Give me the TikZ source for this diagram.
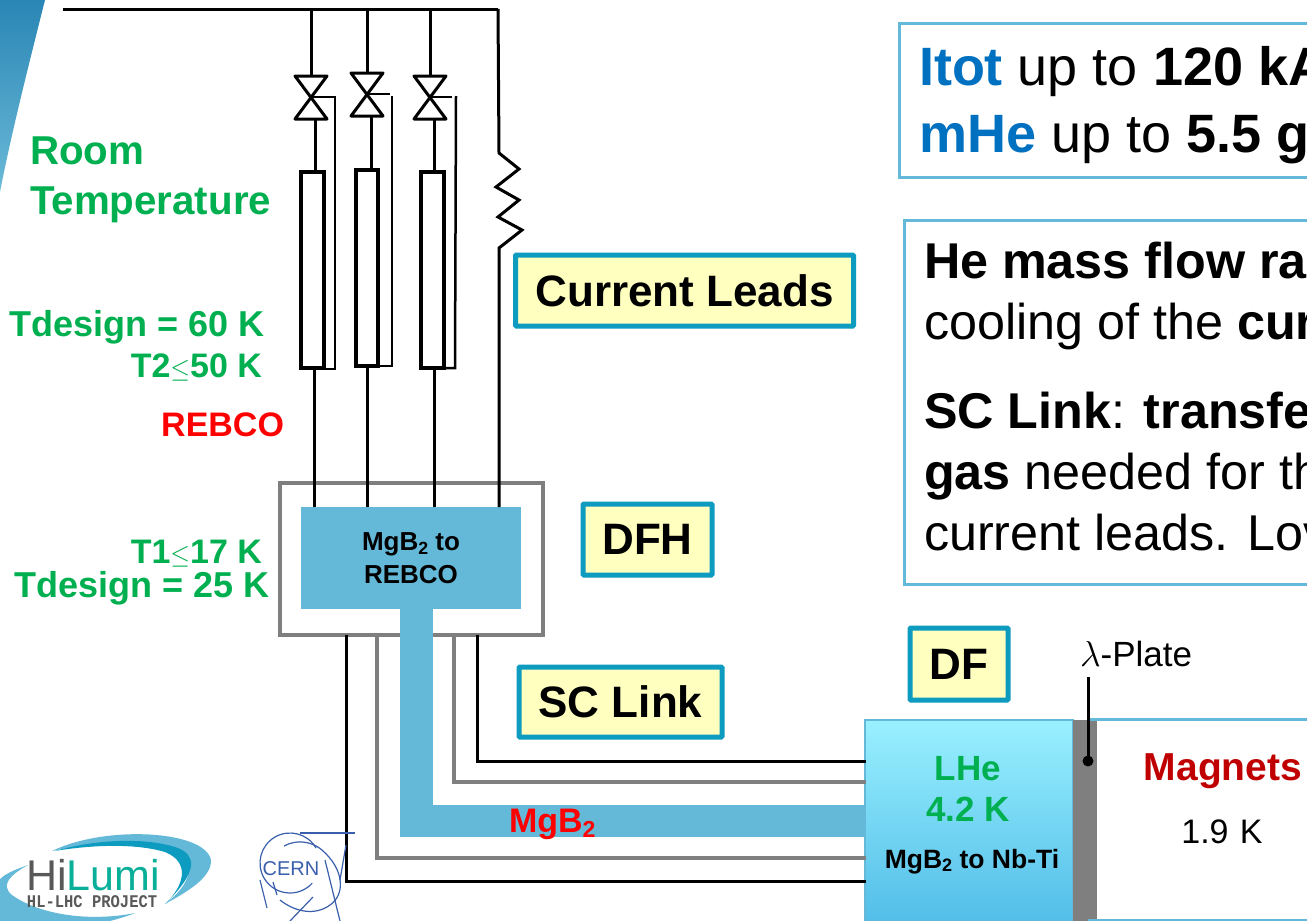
\documentclass[tikz,border=0pt]{standalone}
\usepackage{fontspec}
\setmainfont{Liberation Sans}
\newcommand{\fs}[1]{\fontsize{#1}{#1}\selectfont}
\newcommand{\subtwo}{\raisebox{-0.28ex}{\scalebox{.68}{2}}}
\newcommand{\lesym}{\scalebox{1.02}[1.08]{$\leq$}}
\definecolor{grn}{HTML}{00B050}
\definecolor{lblue}{HTML}{65B9D8}
\definecolor{tagb}{HTML}{0D9BC0}
\definecolor{tagf}{HTML}{FFFFC0}
\definecolor{gry}{HTML}{7F7F7F}
\definecolor{itb}{HTML}{0070C0}
\definecolor{cernb}{HTML}{3A5FAC}
\definecolor{mag}{HTML}{C00000}
\definecolor{dftop}{HTML}{99F0FF}
\definecolor{dfbot}{HTML}{53BEE8}
\definecolor{cnrtop}{HTML}{2A86B5}
\definecolor{cnrbot}{HTML}{6BBAD8}
\newcommand{\valve}[3]{% name, x, y
  \coordinate (#1) at (#2,#3);
  \draw[blk,line join=round]
    (#2-16,#3-21) -- (#2+16,#3-21) -- (#2-16,#3+22) -- (#2+16,#3+22) -- cycle;
}
\tikzset{
  txt/.style={inner sep=0pt,outer sep=0pt,anchor=base west},
  txtc/.style={inner sep=0pt,outer sep=0pt,anchor=base},
  txte/.style={inner sep=0pt,outer sep=0pt,anchor=base east},
  blk/.style={draw=black,line width=3pt},
  thin blk/.style={draw=black,line width=2.5pt},
  gline/.style={draw=gry,line width=4pt},
  tube/.style={draw=black,line width=3.2pt,fill=white,inner sep=0pt},
  tag/.style={draw=tagb,line width=5pt,fill=tagf,rounded corners=1pt,inner sep=0pt,font=\bfseries\fs{44},text=black},
  info/.style={draw=lblue,line width=3pt,fill=white},
}
\begin{document}
\begin{tikzpicture}[x=1pt,y=-1pt]
\useasboundingbox (0,0) rectangle (1307,921);
\clip (0,0) rectangle (1307,921);
\fill[white] (0,0) rectangle (1307,921);

% corner
\shade[top color=cnrtop,bottom color=cnrbot]
  (0,0) -- (45,0) .. controls (30,60) and (12,130) .. (0,192) -- cycle;

% connector end points
\coordinate (topL) at (63,9);
\coordinate (topR) at (498,9);
\coordinate (t1) at (311,9);
\coordinate (t2) at (367,9);
\coordinate (t3) at (430,9);

% DFH
\node[draw=gry,line width=4pt,fill=white,minimum width=263pt,minimum height=152pt,inner sep=0pt] (outer) at (411.5,559) {};
\node[fill=lblue,minimum width=220pt,minimum height=102pt,inner sep=0pt,align=center,font=\bfseries\fs{26}] (inner) at (411,558) {\fs{26}MgB\subtwo{} to\\[6.5pt]\fs{26}REBCO};

% top line
\draw[blk] (topL) -- (topR);
\draw[blk] (t1) -- ++(0,67) (t2) -- ++(0,63) (t3) -- ++(0,67);

% valves
\valve{v1}{311}{97}
\valve{v2}{367}{94}
\valve{v3}{430}{97}

% tubes
\node[tube,minimum width=23pt,minimum height=196pt] (r1) at (312.5,270) {};
\node[tube,minimum width=22pt,minimum height=196pt] (r2) at (367,268) {};
\node[tube,minimum width=23pt,minimum height=196pt] (r3) at (432.5,270) {};

% valve to tube
\draw[blk] (315,119) -- (315,171);
\draw[blk] (371,116) -- (371,168);
\draw[blk] (434,119) -- (434,171);

% bypasses
\draw[thin blk] (v1) -- (335,97) -- (335,369) -- (322,369);
\draw[thin blk] (v2) -- (390,94);
\draw[thin blk] (392,96) -- (392,366) -- (378,366);
\draw[thin blk] (v3) -- (452,97);
\draw[thin blk] (456,96) -- (455,368) -- (444,368);

% to DFH
\draw[blk] (r1.south -| 314,0) -- (314,507);
\draw[blk] (r2.south -| 367,0) -- (367,507);
\draw[blk] (r3.south -| 434,0) -- (434,507);

% resistor
\draw[blk,line join=miter] (topR) -- (499,153) -- (519,169) -- (496,187) -- (519,200) -- (498,217) -- (522,230) -- (499,248) -- (499,507);

% DF block
\node[inner sep=0pt,minimum width=208pt,minimum height=201pt,draw=lblue,line width=1.5pt,top color=dftop,bottom color=dfbot] (df) at (969,820.5) {};
\fill[gry] (1073,720) rectangle (1097,921);
\node[fill=white,minimum width=215pt,minimum height=200pt,inner sep=0pt] (mg) at (1204.5,819) {};
\draw[lblue,line width=3pt] (1088,719) -- (1307,719) (1088,920) -- (1307,920);

% links from DFH to DF
\coordinate (s1) at (346,635); \coordinate (d1) at (866,881);
\coordinate (s2) at (377,635); \coordinate (d2) at (866,858);
\coordinate (s3) at (454,635); \coordinate (d3) at (866,782);
\coordinate (s4) at (477,635); \coordinate (d4) at (866,761);
\draw[blk] (s1) |- (d1);
\draw[gline] (s2) |- (d2);
\draw[gline] (s3) |- (d3);
\draw[blk] (s4) |- (d4);
\fill[lblue] (400,609) rectangle (433,837);
\fill[lblue] (433,805) rectangle (865,837);

% lambda pointer
\coordinate (lam) at (1088,677);
\coordinate (lamdot) at (1088,761);
\draw[black,line width=3pt] (lam) -- (lamdot);
\fill[black] (lamdot) circle (5.5);
\node[txt,font=\fs{35}] (lamtxt) at (1080,666) {\scalebox{1.45}{$\lambda$}-Plate};

% tags
\node[tag,minimum width=338pt,minimum height=71pt] (cl) at (684.5,290.5) {Current Leads};
\node[tag,minimum width=129pt,minimum height=71pt] (dfh) at (647.5,539.5) {DFH};
\node[tag,minimum width=203pt,minimum height=70pt] (sc) at (620.5,702) {SC Link};
\node[tag,minimum width=98pt,minimum height=72pt] (dft) at (959,664) {DF};

% left texts
\node[txt,font=\bfseries\fs{40.3},text=grn] (rm) at (30,164) {Room};
\node[txt,font=\bfseries\fs{40.3},text=grn] (tp) at (30,214) {Temperature};
\node[txte,font=\bfseries\fs{36},text=grn] (td60) at (265,336) {Tdesign = 60 K};
\node[txte,font=\bfseries\fs{34},text=grn] (t2) at (262,377) {T2\lesym{}50 K};
\node[txte,font=\bfseries\fs{34},text=red] (reb) at (284,436) {REBCO};
\node[txte,font=\bfseries\fs{34},text=grn] (t1t) at (262,563) {T1\lesym{}17 K};
\node[txte,font=\bfseries\fs{36},text=grn] (td25) at (270,597) {Tdesign = 25 K};
\node[txt,font=\bfseries\fs{34},text=red] (mgb) at (509,832) {MgB\subtwo};

% DF texts
\node[txtc,font=\bfseries\fs{35},text=grn] (lhe) at (968,780) {LHe};
\node[txtc,font=\bfseries\fs{35},text=grn] (k42) at (968,821) {4.2 K};
\node[txtc,font=\bfseries\fs{26.5}] (nbti) at (972,868) {MgB\subtwo{} to Nb-Ti};
\node[txtc,font=\bfseries\fs{39},text=mag] (mags) at (1223,780) {Magnets};
\node[txtc,font=\fs{34}] (k19) at (1222,843) {1.9\,\,K};

% info boxes
\node[info,minimum width=450pt,minimum height=154pt,anchor=north west,inner sep=0pt] (b1) at (898,22) {};
\node[info,minimum width=450pt,minimum height=364pt,anchor=north west,inner sep=0pt] (b2) at (903,219) {};
\node[txt,font=\fs{54}] (a1) at (919,85) {\textcolor{itb}{\bfseries Itot} up to \textbf{120 kA}};
\node[txt,font=\fs{54}] (a2) at (919,152) {\textcolor{itb}{\bfseries mHe} up to \textbf{5.5 g}};
\node[txt,font=\fs{50.3}] (c1) at (924,278) {\textbf{He mass flow ra}};
\node[txt,font=\fs{50.3}] (c2) at (924,339) {cooling of the \textbf{cur}};
\node[txt,font=\fs{50.3}] (c3) at (924,428) {\textbf{SC Link}: \textbf{transfe}};
\node[txt,font=\fs{50.3}] (c4) at (924,489) {\textbf{gas} needed for th};
\node[txt,font=\fs{50.3}] (c5) at (924,550) {current leads. Lov};

% HiLumi logo
\fill[lblue] (52,851) .. controls (105,825) and (205,830) .. (211,860) .. controls (212,878) and (185,893) .. (165,904) .. controls (190,885) and (200,862) .. (170,850) .. controls (135,840) and (90,843) .. (52,851) -- cycle;
\fill[tagb] (55,851) .. controls (100,838) and (150,838) .. (178,848) .. controls (195,855) and (200,870) .. (165,904) .. controls (185,885) and (190,862) .. (165,852) .. controls (135,843) and (90,845) .. (55,851) -- cycle;
\fill[lblue] (28,865) .. controls (5,873) and (-5,880) .. (0,885) -- (0,921) -- (110,921) .. controls (125,917) and (130,915) .. (135,913) .. controls (90,922) and (40,915) .. (12,895) .. controls (0,885) and (10,875) .. (28,865) -- cycle;
\node[txt,font=\fs{43}] (hl) at (26,890) {\textcolor{black!65}{Hi}\textcolor{tagb!80!green}{Lumi}};
\node[txt] (hlp) at (27,907) {\scalebox{1}[1.15]{\fontspec{Liberation Mono}\bfseries\fs{15.5}\textcolor{black!65}{HL-LHC PROJECT}}};

% CERN logo
\draw[cernb,line width=1.2pt] (300,833) -- (355,833);
\draw[cernb,line width=1.2pt] (316,848) arc (-30:-318:30);
\draw[cernb,line width=1.2pt] (284,846) .. controls (295,840) and (310,840) .. (322,850) .. controls (345,870) and (345,895) .. (330,905) .. controls (315,916) and (295,912) .. (280,900);
\draw[cernb,line width=1.2pt] (260,880) -- (267,908);
\draw[cernb,line width=1.2pt] (325,860) -- (340,921);
\draw[cernb,line width=1.2pt] (313,897) -- (290,921);
\draw[cernb,line width=1.2pt] (273,882) -- (277,895);
\draw[cernb,line width=1.2pt] (346,845) -- (340,880);
\node[txtc,font=\fs{20},text=cernb] (cern) at (291,875) {CERN};
\end{tikzpicture}
\end{document}
